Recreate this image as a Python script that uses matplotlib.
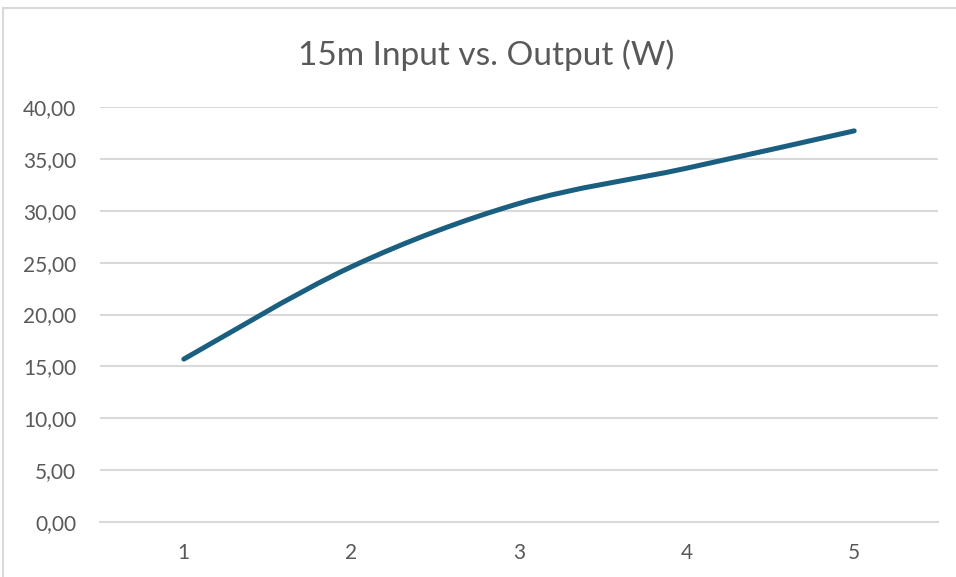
import numpy as np
import matplotlib.pyplot as plt
from matplotlib.path import Path
from matplotlib.patches import PathPatch
from matplotlib.lines import Line2D
from matplotlib.ticker import FuncFormatter

# data
x_vals = [1, 2, 3, 4, 5]
output_w = [15.7, 24.6, 30.7, 34.1, 37.7]
y_ticks = [0, 5, 10, 15, 20, 25, 30, 35, 40]

plt.rcParams['font.family'] = ['Lato', 'DejaVu Sans']

fig = plt.figure(figsize=(9.56, 5.77), dpi=100)
ax = fig.add_axes([100/956, 1 - 522/577, 838/956, 415/577])

# excel style smoothed line: bezier segments through the data points
xs = np.array(x_vals, dtype=float)
ys = np.array(output_w, dtype=float)
n = len(xs)
verts = [(xs[0], ys[0])]
codes = [Path.MOVETO]
for i in range(n - 1):
    p0 = np.array([xs[max(i - 1, 0)], ys[max(i - 1, 0)]])
    p1 = np.array([xs[i], ys[i]])
    p2 = np.array([xs[i + 1], ys[i + 1]])
    p3 = np.array([xs[min(i + 2, n - 1)], ys[min(i + 2, n - 1)]])
    c1 = p1 + (p2 - p0) / 6
    c2 = p2 - (p3 - p1) / 6
    verts += [tuple(c1), tuple(c2), tuple(p2)]
    codes += [Path.CURVE4] * 3
patch = PathPatch(Path(verts, codes), facecolor='none', edgecolor='#1a5e80',
                  lw=3.6, capstyle='round', joinstyle='round', zorder=3)
ax.add_patch(patch)

ax.set_xlim(0.5, 5.5)
ax.set_ylim(0, 40)
ax.set_xticks(x_vals)
ax.set_yticks(y_ticks)
ax.yaxis.set_major_formatter(FuncFormatter(lambda v, p: f"{v:.2f}".replace('.', ',')))
ax.grid(axis='y', color='#d9d9d9', lw=1.5)
ax.set_axisbelow(True)
for s in ['top', 'right', 'left']:
    ax.spines[s].set_visible(False)
ax.spines['bottom'].set_color('#d9d9d9')
ax.spines['bottom'].set_linewidth(1.5)
ax.tick_params(length=0, colors='#595959', labelsize=15)
ax.tick_params(axis='y', pad=17)
ax.tick_params(axis='x', pad=15)

fig.text(486/956, 1 - 55/577, "15m Input vs. Output (W)", ha='center', va='center',
         fontsize=24, color='#595959')

# chart frame (cropped on right and bottom)
fig.add_artist(Line2D([3/956, 3/956], [0, 1 - 8/577], color='#d9d9d9', lw=1.5))
fig.add_artist(Line2D([3/956, 1], [1 - 8/577, 1 - 8/577], color='#d9d9d9', lw=1.5))

fig.savefig('out.png', dpi=100)
